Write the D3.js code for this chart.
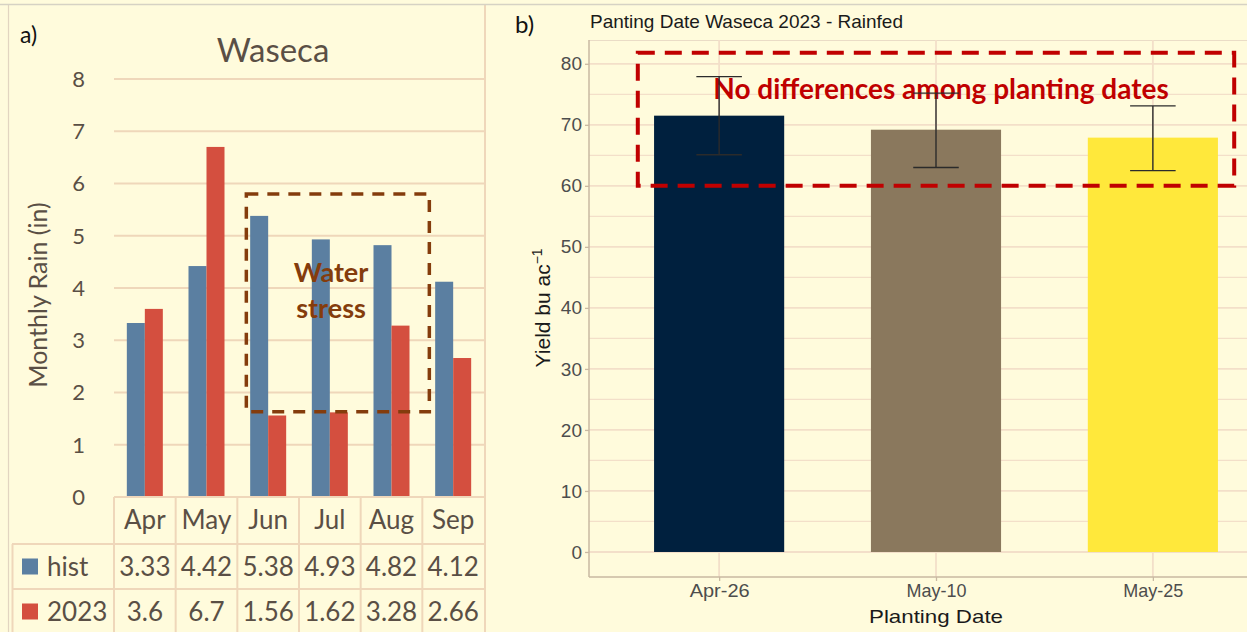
<!DOCTYPE html>
<html>
<head>
<meta charset="utf-8">
<script src="https://cdn.jsdelivr.net/npm/d3@7"></script>
<style>
  html, body { margin: 0; padding: 0; background: #fffbdc; }
  svg { display: block; }
</style>
</head>
<body>
<svg id="chart" width="1247" height="632"></svg>
<script>
// a) monthly rain at Waseca (in)
const months = ['Apr', 'May', 'Jun', 'Jul', 'Aug', 'Sep'];
const seriesNames = ['hist', '2023'];
const histRain = [3.33, 4.42, 5.38, 4.93, 4.82, 4.12];
const rain2023 = [3.6, 6.7, 1.56, 1.62, 3.28, 2.66];
const rainTicks = [0, 1, 2, 3, 4, 5, 6, 7, 8];

// b) yield by planting date, rainfed
const plantDates = ['Apr-26', 'May-10', 'May-25'];
const yieldMean = [71.5, 69.2, 67.9];
const yieldLow = [65.1, 63.0, 62.5];
const yieldHigh = [77.9, 75.2, 73.1];
const yieldTicks = [0, 10, 20, 30, 40, 50, 60, 70, 80];
const yieldMinor = [5, 15, 25, 35, 45, 55, 65, 75];

const svg = d3.select('#chart');

//////////////////////// panel a ////////////////////////
const ink = '#5a4f45';
const gridA = '#efd7ba';
const rainColor = { hist: '#5b7fa1', '2023': '#d44f3f' };
const rainByName = { hist: histRain, '2023': rain2023 };
const calibri = 'Lato, "Open Sans", sans-serif';

const a = svg.append('g').attr('class', 'panelA');

// top rule across the picture and frame of the excel chart
svg.append('line')
  .attr('x1', 0).attr('x2', 1247).attr('y1', 4.5).attr('y2', 4.5)
  .attr('stroke', '#d6d2c4').attr('stroke-width', 1.5);
a.append('line')
  .attr('x1', 8.5).attr('x2', 8.5).attr('y1', 5).attr('y2', 632)
  .attr('stroke', '#e2d5c0').attr('stroke-width', 1.2);

const x0 = d3.scaleBand().domain(months).range([114, 484]);
const groupW = 36;
const x1 = d3.scaleBand().domain(seriesNames).range([0, groupW]);
const yRain = d3.scaleLinear().domain([0, 8]).range([497, 79]);

// gridlines
a.selectAll('.gridA')
  .data(rainTicks.slice(1))
  .enter()
  .append('line')
  .attr('class', 'gridA')
  .attr('x1', 114).attr('x2', 485)
  .attr('y1', d => yRain(d)).attr('y2', d => yRain(d))
  .attr('stroke', gridA).attr('stroke-width', 2);

// right frame line of the plot
a.append('line')
  .attr('x1', 485).attr('x2', 485).attr('y1', 5).attr('y2', 632)
  .attr('stroke', gridA).attr('stroke-width', 2);

// y tick labels
a.selectAll('.tickA')
  .data(rainTicks)
  .enter()
  .append('text')
  .attr('class', 'tickA')
  .attr('x', 85)
  .attr('y', d => yRain(d))
  .attr('dy', '0.36em')
  .attr('text-anchor', 'end')
  .style('font-family', calibri)
  .style('font-size', '22px')
  .attr('fill', ink)
  .text(d => d);

// y axis title
a.append('text')
  .attr('transform', 'translate(47,295) rotate(-90)')
  .attr('text-anchor', 'middle')
  .style('font-family', calibri)
  .style('font-size', '25px')
  .attr('fill', ink)
  .text('Monthly Rain (in)');

// chart title
a.append('text')
  .attr('x', 273).attr('y', 62)
  .attr('text-anchor', 'middle')
  .style('font-family', calibri)
  .style('font-size', '33px')
  .attr('fill', ink)
  .text('Waseca');

a.append('text')
  .attr('x', 20).attr('y', 43)
  .style('font-family', calibri)
  .style('font-size', '23px')
  .attr('fill', '#111')
  .text('a)');

// bars
const monthG = a.selectAll('.month')
  .data(months)
  .enter()
  .append('g')
  .attr('class', 'month')
  .attr('transform', d => 'translate(' + (x0(d) + (x0.bandwidth() - groupW) / 2) + ',0)');

monthG.selectAll('rect')
  .data((m, i) => seriesNames.map(s => ({ s: s, v: rainByName[s][i] })))
  .enter()
  .append('rect')
  .attr('x', d => x1(d.s))
  .attr('width', x1.bandwidth())
  .attr('y', d => yRain(d.v))
  .attr('height', d => yRain(0) - yRain(d.v))
  .attr('fill', d => rainColor[d.s]);

// data table under the chart
const rowTop = [yRain(0), 544, 589];
const rowH = [46, 45, 45];
const tableG = a.append('g').attr('class', 'table');
const cols = months.map(m => x0(m)).concat([485]);
tableG.selectAll('.vline')
  .data(cols)
  .enter()
  .append('line')
  .attr('x1', d => d).attr('x2', d => d)
  .attr('y1', yRain(0)).attr('y2', 632)
  .attr('stroke', gridA).attr('stroke-width', 2);
tableG.append('line')
  .attr('x1', 114).attr('x2', 485).attr('y1', yRain(0)).attr('y2', yRain(0))
  .attr('stroke', gridA).attr('stroke-width', 2);
tableG.selectAll('.hline')
  .data([rowTop[1], rowTop[2]])
  .enter()
  .append('line')
  .attr('x1', 12).attr('x2', 485)
  .attr('y1', d => d).attr('y2', d => d)
  .attr('stroke', gridA).attr('stroke-width', 2);
tableG.append('line')
  .attr('x1', 12.5).attr('x2', 12.5).attr('y1', rowTop[1]).attr('y2', 632)
  .attr('stroke', gridA).attr('stroke-width', 2);

tableG.selectAll('.monthLabel')
  .data(months)
  .enter()
  .append('text')
  .attr('x', d => x0(d) + x0.bandwidth() / 2)
  .attr('y', rowTop[0] + rowH[0] / 2)
  .attr('dy', '0.36em')
  .attr('text-anchor', 'middle')
  .style('font-family', calibri)
  .style('font-size', '26px')
  .attr('fill', ink)
  .text(d => d);

seriesNames.forEach((s, r) => {
  const cy = rowTop[r + 1] + rowH[r + 1] / 2;
  tableG.append('rect')
    .attr('x', 22).attr('y', cy - 8).attr('width', 16).attr('height', 16)
    .attr('fill', rainColor[s]);
  tableG.append('text')
    .attr('x', 47).attr('y', cy).attr('dy', '0.36em')
    .style('font-family', calibri).style('font-size', '26px')
    .attr('fill', ink)
    .text(s);
  tableG.selectAll('.val' + r)
    .data(rainByName[s])
    .enter()
    .append('text')
    .attr('x', (d, i) => x0(months[i]) + x0.bandwidth() / 2)
    .attr('y', cy).attr('dy', '0.36em')
    .attr('text-anchor', 'middle')
    .style('font-family', calibri).style('font-size', '26px')
    .attr('fill', ink)
    .text(d => d);
});

// water stress annotation
const brown = '#843c0c';
a.append('rect')
  .attr('x', x0('Jun') + 9)
  .attr('y', yRain(5.8))
  .attr('width', (x0('Sep') + 7) - (x0('Jun') + 9))
  .attr('height', yRain(1.63) - yRain(5.8))
  .attr('fill', 'none')
  .attr('stroke', brown).attr('stroke-width', 3.5)
  .attr('stroke-dasharray', '12,9');
a.append('text')
  .attr('x', 331).attr('y', 282)
  .attr('text-anchor', 'middle')
  .style('font-family', calibri).style('font-size', '27px').style('font-weight', 700)
  .attr('fill', brown)
  .text('Water');
a.append('text')
  .attr('x', 331).attr('y', 318)
  .attr('text-anchor', 'middle')
  .style('font-family', calibri).style('font-size', '27px').style('font-weight', 700)
  .attr('fill', brown)
  .text('stress');

//////////////////////// panel b ////////////////////////
const arial = '"Liberation Sans", Arial, sans-serif';
const gridB = '#f3dfc9';
const b = svg.append('g').attr('class', 'panelB');

const plotL = 589, plotR = 1283, plotT = 40, plotB = 577;
const xPd = d3.scalePoint().domain(plantDates).range([plotL, plotR]).padding(0.6);
const yYield = d3.scaleLinear().domain([-4.1, 83.9]).range([plotB, plotT]);
const barW = xPd.step() * 0.6;
const capW = xPd.step() * 0.21;
const dateColor = ['#00203e', '#8a785d', '#ffe83b'];

b.append('line')
  .attr('x1', plotL).attr('x2', plotR).attr('y1', plotT + 0.5).attr('y2', plotT + 0.5)
  .attr('stroke', '#eadcc6').attr('stroke-width', 1.2);

b.selectAll('.minor')
  .data(yieldMinor)
  .enter()
  .append('line')
  .attr('x1', plotL).attr('x2', plotR)
  .attr('y1', d => yYield(d)).attr('y2', d => yYield(d))
  .attr('stroke', gridB).attr('stroke-width', 1.3);
b.selectAll('.major')
  .data(yieldTicks)
  .enter()
  .append('line')
  .attr('x1', plotL).attr('x2', plotR)
  .attr('y1', d => yYield(d)).attr('y2', d => yYield(d))
  .attr('stroke', gridB).attr('stroke-width', 1.8);
b.selectAll('.vgrid')
  .data(plantDates)
  .enter()
  .append('line')
  .attr('x1', d => xPd(d)).attr('x2', d => xPd(d))
  .attr('y1', plotT).attr('y2', plotB)
  .attr('stroke', gridB).attr('stroke-width', 1.8);

// bars
b.selectAll('.yieldBar')
  .data(plantDates)
  .enter()
  .append('rect')
  .attr('class', 'yieldBar')
  .attr('x', d => xPd(d) - barW / 2)
  .attr('width', barW)
  .attr('y', (d, i) => yYield(yieldMean[i]))
  .attr('height', (d, i) => yYield(0) - yYield(yieldMean[i]))
  .attr('fill', (d, i) => dateColor[i]);

// annotation text
const red = '#c00000';
b.append('text')
  .attr('x', 941).attr('y', 99)
  .attr('text-anchor', 'middle')
  .style('font-family', calibri).style('font-size', '28px').style('font-weight', 700)
  .attr('fill', red)
  .text('No differences among planting dates');

// error bars
const err = b.selectAll('.err')
  .data(plantDates)
  .enter()
  .append('g')
  .attr('stroke', '#2b2b2b').attr('stroke-width', 1.4);
err.append('line')
  .attr('x1', d => xPd(d)).attr('x2', d => xPd(d))
  .attr('y1', (d, i) => yYield(yieldLow[i])).attr('y2', (d, i) => yYield(yieldHigh[i]));
err.append('line')
  .attr('x1', d => xPd(d) - capW / 2).attr('x2', d => xPd(d) + capW / 2)
  .attr('y1', (d, i) => yYield(yieldLow[i])).attr('y2', (d, i) => yYield(yieldLow[i]));
err.append('line')
  .attr('x1', d => xPd(d) - capW / 2).attr('x2', d => xPd(d) + capW / 2)
  .attr('y1', (d, i) => yYield(yieldHigh[i])).attr('y2', (d, i) => yYield(yieldHigh[i]));

// red dashed box
b.append('rect')
  .attr('x', xPd('Apr-26') - 0.375 * xPd.step())
  .attr('y', yYield(81.8))
  .attr('width', xPd('May-25') - xPd('Apr-26') + 0.75 * xPd.step())
  .attr('height', yYield(60) - yYield(81.8))
  .attr('fill', 'none')
  .attr('stroke', red).attr('stroke-width', 4)
  .attr('stroke-dasharray', '17,10');

// axes
const yAxis = b.append('g')
  .attr('transform', 'translate(' + plotL + ',0)')
  .call(d3.axisLeft(yYield).tickValues(yieldTicks).tickSize(4).tickPadding(3));
const xAxis = b.append('g')
  .attr('transform', 'translate(0,' + plotB + ')')
  .call(d3.axisBottom(xPd).tickSize(4).tickPadding(3));
[yAxis, xAxis].forEach(g => {
  g.select('.domain').attr('stroke', '#c9b9a2').attr('stroke-width', 1.5);
  g.selectAll('.tick line').attr('stroke', '#c9b9a2').attr('stroke-width', 1.3);
  g.selectAll('.tick text')
    .attr('fill', '#4d4d4d')
    .style('font-family', arial)
    .style('font-size', '19px');
});
xAxis.selectAll('.tick text').attr('textLength', 60).attr('lengthAdjust', 'spacingAndGlyphs');
xAxis.select('.domain').attr('d', 'M' + plotL + ',0H' + plotR);
yAxis.select('.domain').attr('d', 'M0,' + plotT + 'V' + plotB);

b.append('text')
  .attr('x', xPd('May-10')).attr('y', 623)
  .attr('text-anchor', 'middle')
  .attr('textLength', 134).attr('lengthAdjust', 'spacingAndGlyphs')
  .style('font-family', arial).style('font-size', '19px')
  .attr('fill', '#1a1a1a')
  .text('Planting Date');

const yLab = b.append('text')
  .attr('transform', 'translate(550,' + yYield(40) + ') rotate(-90)')
  .attr('text-anchor', 'middle')
  .style('font-family', arial).style('font-size', '21px')
  .attr('fill', '#1a1a1a');
yLab.append('tspan').text('Yield bu ac');
yLab.append('tspan').attr('dy', '-0.55em').style('font-size', '14px').text('\u22121');

b.append('text')
  .attr('x', 590).attr('y', 28)
  .style('font-family', arial).style('font-size', '19px')
  .attr('fill', '#1a1a1a')
  .text('Panting Date Waseca 2023 - Rainfed');

b.append('text')
  .attr('x', 515).attr('y', 33)
  .style('font-family', calibri).style('font-size', '24px')
  .attr('fill', '#111')
  .text('b)');
</script>
</body>
</html>
